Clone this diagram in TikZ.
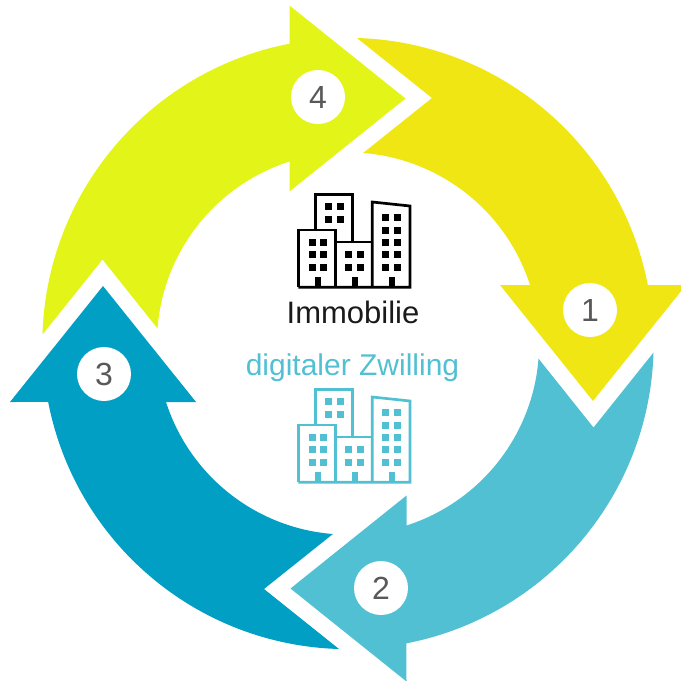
\documentclass[tikz,border=0pt]{standalone}
\usepackage{fontspec}
\setmainfont{Liberation Sans}
\definecolor{cycOne}{HTML}{F0E614}
\definecolor{cycTwo}{HTML}{52C0D3}
\definecolor{cycThree}{HTML}{019FC3}
\definecolor{cycFour}{HTML}{E3F518}
\definecolor{numGrey}{HTML}{595959}
\definecolor{softBlack}{HTML}{1A1A1A}
\tikzset{
  numdisc/.style={circle,fill=white,minimum size=54pt,inner sep=0pt,text=numGrey,font=\fontsize{32}{32}\selectfont},
  caption/.style={anchor=base,inner sep=0pt,font=\fontsize{#1}{#1}\selectfont},
  wall/.style={line width=2.7pt,line join=miter},
}
\newcommand{\ringarrow}[2]{%
  \fill[#2,rotate around={#1:(348,343.5)}]
    (357,38) arc[start angle=-88.3,end angle=-11,radius=305.5]
    -- (686,285) -- (593,401) -- (500,285) -- (530,285)
    arc[start angle=-17.8,end angle=-85.5,radius=191]
    -- (432,98) -- cycle;}
\newcommand{\block}[5]{\foreach \wx in {#1}{\foreach \wy in {#2}{\fill[#5] (\wx,\wy) rectangle ++(#3,#4);}}}
\newcommand{\towers}[2]{%
  \begin{scope}[shift={(0,#1)}]
    \draw[wall,#2] (315.7,230) -- (315.7,194.3) -- (352.7,194.3) -- (352.7,242);
    \draw[wall,#2] (298.3,287.3) -- (298.3,230) -- (335.7,230) -- (335.7,287.3);
    \draw[wall,#2] (335.7,242) -- (372.3,242);
    \draw[wall,#2] (298.3,287.3) -- (410,287.3) -- (410,206) -- (372.3,202) -- (372.3,287.3);
    \block{325,337}{203,216}{7}{7}{#2}
    \block{308.5,320}{239,251,264}{7}{7}{#2}
    \block{345,357}{251,264}{7}{7}{#2}
    \block{382,394}{214,227,239,251,264}{7}{7}{#2}
    \block{314.5,351.5,388.5}{277}{6}{10}{#2}
  \end{scope}}
\begin{document}
\begin{tikzpicture}[x=1pt,y=1pt,yscale=-1]
  \useasboundingbox (0,0) rectangle (681,681);
  \clip (0,0) rectangle (681,681);
  \ringarrow{0}{cycOne}
  \ringarrow{90}{cycTwo}
  \ringarrow{180}{cycThree}
  \ringarrow{270}{cycFour}
  \node[numdisc] (n1) at (590,310) {1};
  \node[numdisc] (n2) at (381,588) {2};
  \node[numdisc] (n3) at (104,374) {3};
  \node[numdisc] (n4) at (318,97) {4};
  \towers{0}{black}
  \towers{195}{cycTwo}
  \node[caption=31,text=softBlack] (immo) at (353,323) {Immobilie};
  \node[caption=30,text=cycTwo] (twin) at (352.5,375) {digitaler Zwilling};
\end{tikzpicture}
\end{document}
